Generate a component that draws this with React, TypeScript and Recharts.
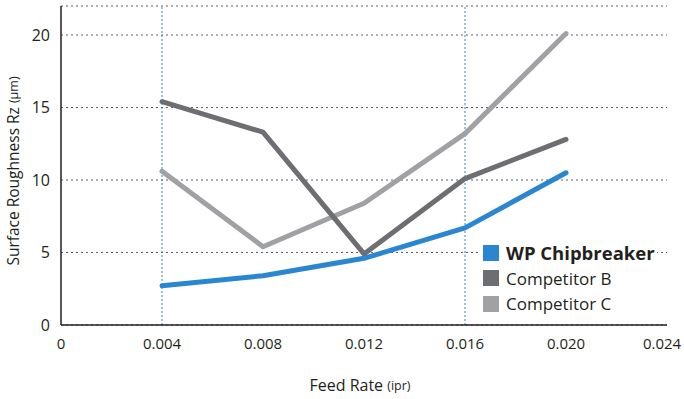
import React from 'react';
import {
  LineChart, Line, XAxis, YAxis, CartesianGrid, ReferenceLine,
} from 'recharts';

// ── Data ──────────────────────────────────────────────────────────────────────
const feedRates = [0.004, 0.008, 0.012, 0.016, 0.02];
const wpChipbreaker = [2.7, 3.4, 4.6, 6.7, 10.5];
const competitorB = [15.4, 13.3, 4.9, 10.1, 12.8];
const competitorC = [10.6, 5.4, 8.4, 13.2, 20.1];

const xTicks = [0, 0.004, 0.008, 0.012, 0.016, 0.02, 0.024];
const yTicks = [0, 5, 10, 15, 20];
const highlightRates = [0.004, 0.016];

const SERIES = [
  { key: 'c', name: 'Competitor C', color: '#a0a1a4', bold: false },
  { key: 'b', name: 'Competitor B', color: '#6d6e72', bold: false },
  { key: 'wp', name: 'WP Chipbreaker', color: '#2a86d0', bold: true },
];

const data = feedRates.map((x, i) => ({
  x,
  wp: wpChipbreaker[i],
  b: competitorB[i],
  c: competitorC[i],
}));

const FONT = '"Open Sans", "Noto Sans", sans-serif';

const fmtX = (v: number) => (v === 0 ? '0' : v.toFixed(3));

// x tick; the last one is nudged in so it doesn't run off the page edge
function XTick(props: any) {
  const { x, y, payload, index } = props;
  const last = index === xTicks.length - 1;
  return (
    <text
      x={last ? x - 5 : x}
      y={y}
      dy="0.71em"
      textAnchor="middle"
      fill="#231f20"
      fontSize={15}
      fontFamily={FONT}
    >
      {fmtX(payload.value)}
    </text>
  );
}

function YLabel() {
  const cy = 171;
  return (
    <text
      x={13}
      y={cy}
      transform={`rotate(-90, 13, ${cy})`}
      textAnchor="middle"
      dominantBaseline="central"
      fill="#231f20"
      fontSize={15.5}
      fontFamily={FONT}
    >
      Surface Roughness Rz <tspan fontSize={12.5}>(μm)</tspan>
    </text>
  );
}

function XLabel() {
  return (
    <text
      x={360}
      y={385}
      textAnchor="middle"
      dominantBaseline="central"
      fill="#231f20"
      fontSize={16}
      fontFamily={FONT}
    >
      Feed Rate <tspan fontSize={12.5}>(ipr)</tspan>
    </text>
  );
}

// legend sits over the plot with a white backing, like the original
function LegendBox() {
  const order = [...SERIES].reverse();
  return (
    <div
      style={{
        position: 'absolute', left: 481, top: 239, background: '#fff',
        padding: '1px 2px', fontFamily: FONT, lineHeight: 1,
      }}
    >
      {order.map(s => (
        <div key={s.key} style={{ display: 'flex', alignItems: 'center', height: 25.5 }}>
          <span style={{ width: 16, height: 16, background: s.color, display: 'inline-block', marginRight: 7 }} />
          <span style={{ fontSize: s.bold ? 18.5 : 17, fontWeight: s.bold ? 700 : 400, color: '#231f20' }}>
            {s.name}
          </span>
        </div>
      ))}
    </div>
  );
}

export default function App() {
  return (
    <div style={{ position: 'absolute', left: 0, top: 0, width: 684, height: 399, background: '#fff' }}>
      <LineChart width={684} height={399} data={data} margin={{ top: 6, right: 17, bottom: 0, left: 0 }}>
        <CartesianGrid vertical={false} stroke="#5a5f70" strokeDasharray="2 3" />
        {highlightRates.map(r => (
          <ReferenceLine key={r} x={r} stroke="#2a86d0" strokeDasharray="2 2" strokeWidth={1} />
        ))}
        <XAxis
          dataKey="x"
          type="number"
          domain={[0, 0.024]}
          ticks={xTicks}
          tickLine={false}
          tickSize={0}
          tickMargin={13}
          height={74}
          interval={0}
          axisLine={{ stroke: '#231f20', strokeWidth: 1.5 }}
          tick={<XTick />}
          label={<XLabel />}
        />
        <YAxis
          type="number"
          domain={[0, 22]}
          ticks={yTicks}
          tickLine={false}
          tickSize={0}
          tickMargin={11}
          width={61}
          axisLine={{ stroke: '#231f20', strokeWidth: 1.5 }}
          tick={{ fill: '#231f20', fontSize: 16, fontFamily: FONT }}
          label={<YLabel />}
        />
        {SERIES.map(s => (
          <Line
            key={s.key}
            dataKey={s.key}
            name={s.name}
            stroke={s.color}
            strokeWidth={5}
            strokeLinecap="round"
            strokeLinejoin="round"
            dot={false}
            activeDot={false}
            isAnimationActive={false}
          />
        ))}
      </LineChart>
      <LegendBox />
    </div>
  );
}
